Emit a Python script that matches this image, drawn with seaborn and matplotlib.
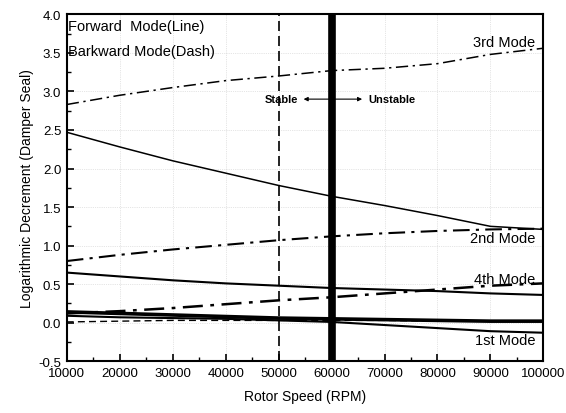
import numpy as np
import pandas as pd
import seaborn as sns
import matplotlib
matplotlib.use("Agg")
import matplotlib.pyplot as plt
from matplotlib.ticker import MultipleLocator

speed = [10000, 20000, 30000, 40000, 50000, 60000, 70000, 80000, 90000, 100000]

third_bw = [2.83, 2.95, 3.05, 3.14, 3.20, 3.27, 3.30, 3.36, 3.48, 3.56]
third_fw = [2.47, 2.28, 2.10, 1.94, 1.78, 1.64, 1.52, 1.39, 1.25, 1.21]
second_bw = [0.80, 0.88, 0.95, 1.01, 1.07, 1.12, 1.16, 1.19, 1.21, 1.22]
fourth_fw = [0.65, 0.60, 0.55, 0.51, 0.48, 0.45, 0.43, 0.41, 0.38, 0.36]
fourth_bw = [0.12, 0.15, 0.19, 0.24, 0.29, 0.33, 0.38, 0.43, 0.48, 0.51]
first_a = [0.14, 0.12, 0.10, 0.08, 0.06, 0.05, 0.04, 0.03, 0.02, 0.02]
first_b = [0.09, 0.07, 0.06, 0.05, 0.03, 0.01, -0.03, -0.07, -0.11, -0.13]
first_c = [0.01, 0.02, 0.03, 0.03, 0.03, 0.03, 0.03, 0.02, 0.02, 0.02]

series = [
    ("3rd_bw", third_bw, "dashdot", 1.1),
    ("3rd_fw", third_fw, "solid", 1.1),
    ("2nd_bw", second_bw, "dashdot", 1.5),
    ("4th_fw", fourth_fw, "solid", 1.5),
    ("4th_bw", fourth_bw, "dashdot", 1.8),
    ("1st_a", first_a, "solid", 2.6),
    ("1st_b", first_b, "solid", 1.5),
    ("1st_c", first_c, "dashed", 1.0),
]

mode_labels = ["3rd Mode", "2nd Mode", "4th Mode", "1st Mode"]
mode_label_y = [3.64, 1.10, 0.57, -0.22]

sns.set_theme(style="ticks")
plt.rcParams["font.family"] = ["Liberation Sans", "DejaVu Sans"]
plt.rcParams["text.color"] = "black"
plt.rcParams["axes.labelcolor"] = "black"
plt.rcParams["xtick.color"] = "black"
plt.rcParams["ytick.color"] = "black"

fig, ax = plt.subplots(figsize=(5.66, 4.14), dpi=100)
fig.subplots_adjust(left=0.118, right=0.96, top=0.963, bottom=0.125)

dash_map = {"solid": "", "dashdot": (8, 3, 1.5, 3), "dashed": (5, 3)}
for name, vals, style, lw in series:
    df = pd.DataFrame({"speed": speed, "val": vals})
    sns.lineplot(data=df, x="speed", y="val", ax=ax, color="black", lw=lw,
                 dashes=False)
    line = ax.lines[-1]
    if style == "dashdot":
        line.set_dashes(dash_map["dashdot"])
    elif style == "dashed":
        line.set_dashes(dash_map["dashed"])

ax.axvline(50000, color="black", lw=1.2, dashes=(6, 3))
ax.axvline(60000, color="black", lw=5.5)

ax.set_xlim(10000, 100000)
ax.set_ylim(-0.5, 4.0)
ax.xaxis.set_major_locator(MultipleLocator(10000))
ax.xaxis.set_minor_locator(MultipleLocator(5000))
ax.yaxis.set_major_locator(MultipleLocator(0.5))
ax.yaxis.set_minor_locator(MultipleLocator(0.25))
ax.yaxis.set_major_formatter(matplotlib.ticker.FormatStrFormatter("%.1f"))
ax.tick_params(axis="both", which="both", direction="in", colors="black",
               labelsize=9.5)
ax.tick_params(which="major", length=5, width=1.2, pad=4)
ax.tick_params(which="minor", length=3, width=1.0)
ax.grid(True, which="major", color="#cccccc", lw=0.5, ls=":")
for s in ax.spines.values():
    s.set_linewidth(1.5)
    s.set_color("black")

ax.set_xlabel("Rotor Speed (RPM)", fontsize=10, labelpad=7)
ax.set_ylabel("Logarithmic Decrement (Damper Seal)", fontsize=10, labelpad=3)

ax.text(10300, 3.85, "Forward  Mode(Line)", fontsize=10.5, va="center")
ax.text(10300, 3.53, "Barkward Mode(Dash)", fontsize=10.5, va="center")

for lab, yv in zip(mode_labels, mode_label_y):
    ax.text(98500, yv, lab, fontsize=10.5, ha="right", va="center")

ax.text(53700, 2.9, "Stable", fontsize=8, fontweight="bold", ha="right", va="center")
ax.text(67000, 2.9, "Unstable", fontsize=8, fontweight="bold", ha="left", va="center")
ax.annotate("", xy=(54200, 2.9), xytext=(60000, 2.9),
            arrowprops=dict(arrowstyle="-|>", color="black", lw=0.8, mutation_scale=6))
ax.annotate("", xy=(66300, 2.9), xytext=(60000, 2.9),
            arrowprops=dict(arrowstyle="-|>", color="black", lw=0.8, mutation_scale=6))

fig.savefig("out.png", dpi=100)
